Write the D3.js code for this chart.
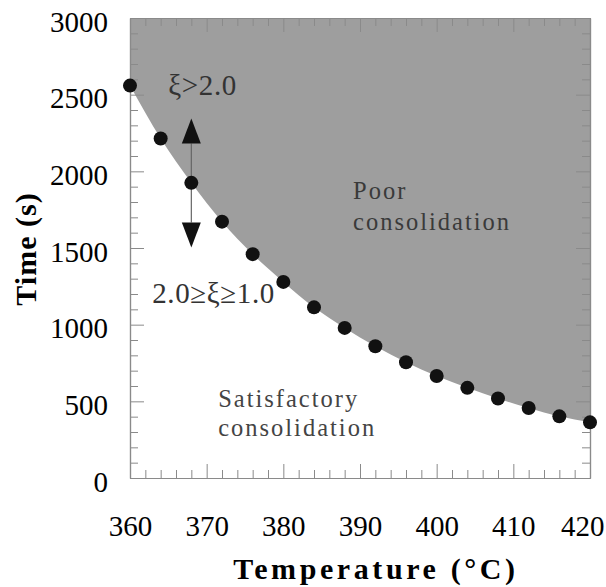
<!DOCTYPE html>
<html>
<head>
<meta charset="utf-8">
<script src="https://cdn.jsdelivr.net/npm/d3@7"></script>
<style>
  html, body { margin: 0; padding: 0; background: #fff; }
  svg { display: block; }
  text { font-family: "Liberation Serif", "DejaVu Serif", serif; }
</style>
</head>
<body>
<svg id="chart" width="606" height="587"></svg>
<script>
// ---- data ----
const temperatures = [360, 364, 368, 372, 376, 380, 384, 388, 392, 396, 400, 404, 408, 412, 416, 420];
const times = [2559, 2214, 1925, 1672, 1460, 1279, 1113, 979, 859, 755, 665, 588, 518, 457, 402, 363];
const xTickValues = [360, 370, 380, 390, 400, 410, 420];
const yTickValues = [0, 500, 1000, 1500, 2000, 2500, 3000];
const xDomain = [360, 420];
const yDomain = [0, 3000];
const xTitle = "Temperature  (°C)";
const yTitle = "Time  (s)";
const regionLabels = [
  { lines: ["Poor", "consolidation"], x: 389.1, y: [1822, 1620], color: "#3a3a3a" },
  { lines: ["Satisfactory", "consolidation"], x: 371.5, y: [466, 277], color: "#444" }
];
const xiLabels = [
  { text: "ξ>2.0", x: 365, y: 2500 },
  { text: "2.0≥ξ≥1.0", x: 362.9, y: 1144 }
];
const arrowX = 368;
const arrowUp = { tip: 2344, base: 2181 };
const arrowDown = { base: 1666, tip: 1503 };

// ---- layout ----
const svg = d3.select("#chart");
const m = { left: 130, top: 18, right: 16, bottom: 109 };
const W = 606, H = 587;
const x = d3.scaleLinear().domain(xDomain).range([m.left, W - m.right]);
const y = d3.scaleLinear().domain(yDomain).range([H - m.bottom, m.top]);

const data = temperatures.map((t, i) => ({ t, v: times[i] }));

// plot background
svg.append("rect").attr("x", x(360)).attr("y", y(3000))
  .attr("width", x(420) - x(360)).attr("height", y(0) - y(3000)).attr("fill", "#fff");

// shaded region above the curve
const area = d3.area().x(d => x(d.t)).y0(y(3000)).y1(d => y(d.v)).curve(d3.curveMonotoneX);
svg.append("path").datum(data).attr("d", area).attr("fill", "#9e9e9e");

// axes (ticks inward)
const minorX = d3.range(360, 421, 2).filter(v => v % 10 !== 0);
const minorY = d3.range(0, 3001, 100).filter(v => v % 500 !== 0);
const tickColor = "#8a8a8a";
function styleAxis(g) {
  g.selectAll("path.domain").attr("stroke", tickColor).attr("stroke-width", 1.2);
  g.selectAll(".tick line").attr("stroke", tickColor).attr("stroke-width", 1);
}
const majorLen = 14, minorLen = 8;
// bottom
svg.append("g").attr("transform", `translate(0,${y(0)})`)
  .call(d3.axisBottom(x).tickValues(minorX).tickSize(-minorLen).tickFormat("").tickSizeOuter(0)).call(styleAxis);
svg.append("g").attr("transform", `translate(0,${y(0)})`)
  .call(d3.axisBottom(x).tickValues(xTickValues).tickSize(-majorLen).tickSizeOuter(0).tickPadding(37).tickFormat(d3.format("d")))
  .call(styleAxis)
  .call(g => g.selectAll(".tick text").attr("font-size", 29).attr("fill", "#000")
    .attr("font-family", "Liberation Serif")
    .filter(d => d === 420).attr("text-anchor", "end").attr("x", W - 2 - x(420)));
// top
svg.append("g").attr("transform", `translate(0,${y(3000)})`)
  .call(d3.axisTop(x).tickValues(minorX).tickSize(-minorLen).tickFormat("").tickSizeOuter(0)).call(styleAxis);
svg.append("g").attr("transform", `translate(0,${y(3000)})`)
  .call(d3.axisTop(x).tickValues(xTickValues).tickSize(-majorLen).tickFormat("").tickSizeOuter(0)).call(styleAxis);
// left
svg.append("g").attr("transform", `translate(${x(360)},0)`)
  .call(d3.axisLeft(y).tickValues(minorY).tickSize(-minorLen).tickFormat("").tickSizeOuter(0)).call(styleAxis);
svg.append("g").attr("transform", `translate(${x(360)},0)`)
  .call(d3.axisLeft(y).tickValues(yTickValues).tickSize(-majorLen).tickSizeOuter(0).tickPadding(22).tickFormat(d3.format("d")))
  .call(styleAxis)
  .call(g => g.selectAll(".tick text").attr("font-size", 29).attr("fill", "#000")
    .attr("font-family", "Liberation Serif").attr("dy", "0.45em"));
// right
svg.append("g").attr("transform", `translate(${x(420)},0)`)
  .call(d3.axisRight(y).tickValues(minorY).tickSize(-minorLen).tickFormat("").tickSizeOuter(0)).call(styleAxis);
svg.append("g").attr("transform", `translate(${x(420)},0)`)
  .call(d3.axisRight(y).tickValues(yTickValues).tickSize(-majorLen).tickFormat("").tickSizeOuter(0)).call(styleAxis);

// axis titles
svg.append("text").attr("x", 376).attr("y", 579).attr("text-anchor", "middle")
  .attr("font-size", 30).attr("font-weight", "bold").attr("letter-spacing", 3.6).attr("fill", "#000").text(xTitle);
svg.append("text").attr("transform", `translate(36,249) rotate(-90)`).attr("text-anchor", "middle")
  .attr("font-size", 30).attr("font-weight", "bold").attr("letter-spacing", 1).attr("fill", "#000").text(yTitle);

// arrow annotation
const ag = svg.append("g");
ag.append("line").attr("x1", x(arrowX)).attr("x2", x(arrowX))
  .attr("y1", y(arrowUp.base)).attr("y2", y(arrowDown.base))
  .attr("stroke", "#666").attr("stroke-width", 1.2);
const hw = 9.5;
ag.append("path").attr("d", `M${x(arrowX)},${y(arrowUp.tip)} L${x(arrowX) + hw},${y(arrowUp.base)} L${x(arrowX) - hw},${y(arrowUp.base)} Z`).attr("fill", "#111");
ag.append("path").attr("d", `M${x(arrowX)},${y(arrowDown.tip)} L${x(arrowX) + hw},${y(arrowDown.base)} L${x(arrowX) - hw},${y(arrowDown.base)} Z`).attr("fill", "#111");

// points
svg.append("g").selectAll("circle").data(data).join("circle")
  .attr("cx", d => x(d.t)).attr("cy", d => y(d.v)).attr("r", 7).attr("fill", "#111");

// region labels
regionLabels.forEach(l => {
  l.lines.forEach((s, i) => {
    svg.append("text").attr("x", x(l.x)).attr("y", y(l.y[i]))
      .attr("font-size", 24.5).attr("letter-spacing", 2).attr("fill", l.color).text(s);
  });
});
xiLabels.forEach(l => {
  svg.append("text").attr("x", x(l.x)).attr("y", y(l.y))
    .attr("font-size", 29).attr("letter-spacing", 0.6).attr("fill", "#333").text(l.text);
});
</script>
</body>
</html>
